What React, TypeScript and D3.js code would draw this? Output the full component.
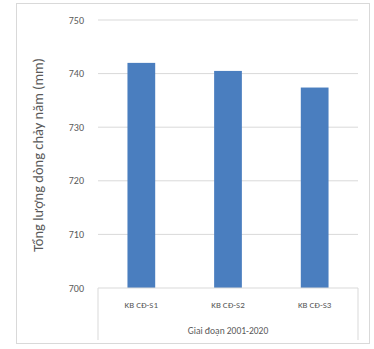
import React from "react";
import * as d3 from "d3";

const categories = ["KB CĐ-S1", "KB CĐ-S2", "KB CĐ-S3"];
const values = [742.0, 740.5, 737.4];
const yTicks = [700, 710, 720, 730, 740, 750];
const groupLabel = "Giai đoạn 2001-2020";
const yTitle = "Tổng lượng dòng chảy năm (mm)";

export default function App() {
  const W = 374, H = 349;
  const left = 98, right = 358, top = 20, bottom = 288;
  const x = d3.scaleBand<string>().domain(categories).range([left, right]).paddingInner(0.68).paddingOuter(0.34);
  const y = d3.scaleLinear().domain([700, 750]).range([bottom, top]);
  const font = "Calibri, Carlito, 'Liberation Sans', Arial, sans-serif";
  return (
    <svg width={W} height={H} style={{ position: "absolute", left: 0, top: 0 }} fontFamily={font}>
      <rect x={0} y={0} width={W} height={H} fill="#fff" />
      <rect x={16.5} y={3.5} width={353} height={340} fill="#fff" stroke="#d9d9d9" />
      {yTicks.map((t) => (
        <g key={t}>
          {t !== 700 && <line x1={left} x2={right} y1={y(t)} y2={y(t)} stroke="#d9d9d9" />}
          <text x={84} y={y(t)} dy="0.35em" textAnchor="end" fontSize={10} fill="#595959">{t}</text>
        </g>
      ))}
      {categories.map((c, i) => (
        <rect key={c} x={x(c)} y={y(values[i])} width={x.bandwidth()} height={bottom - y(values[i])} fill="#4a7ebf" />
      ))}
      <line x1={left} x2={right} y1={bottom} y2={bottom} stroke="#d9d9d9" />
      <line x1={left} x2={left} y1={bottom} y2={340} stroke="#d9d9d9" />
      <line x1={right} x2={right} y1={bottom} y2={340} stroke="#d9d9d9" />
      {categories.map((c) => (
        <text key={c} x={x(c)! + x.bandwidth() / 2} y={305} dy="0.35em" textAnchor="middle" fontSize={9} fill="#595959">{c}</text>
      ))}
      <text x={(left + right) / 2} y={331} dy="0.35em" textAnchor="middle" fontSize={9.5} fill="#595959">{groupLabel}</text>
      <text transform={`translate(38,155) rotate(-90)`} textAnchor="middle" dy="0.35em" fontSize={14.5} fill="#595959">{yTitle}</text>
    </svg>
  );
}
